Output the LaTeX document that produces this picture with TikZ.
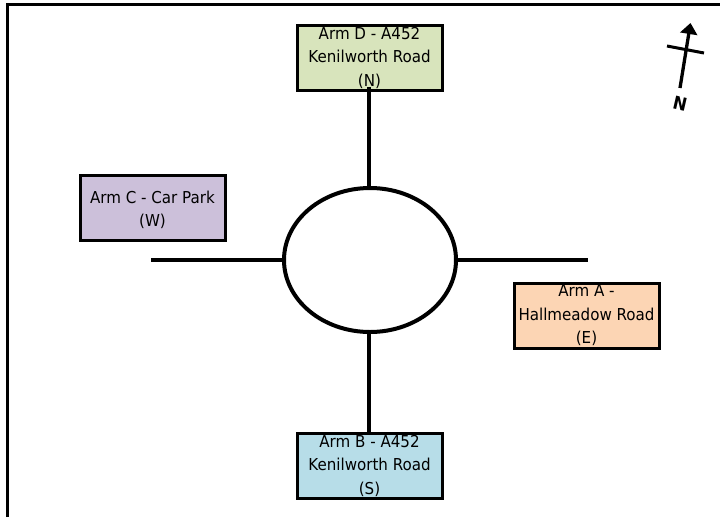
\documentclass[tikz,border=0pt]{standalone}
\usepackage{fontspec}
\usetikzlibrary{shapes.geometric,arrows.meta}
\setmainfont[FakeStretch=0.92]{DejaVu Sans}
\tikzset{
  x=1pt,y=-1pt,
  armbox/.style={draw=black,line width=3pt,minimum width=145pt,minimum height=65pt,inner sep=0pt,align=center,font=\fontsize{16.4}{23.5}\selectfont},
  road/.style={draw=black,line width=4pt},
}
\definecolor{armd}{HTML}{D8E4BC}
\definecolor{armc}{HTML}{CCC0DA}
\definecolor{arma}{HTML}{FCD5B4}
\definecolor{armb}{HTML}{B7DDE8}
\begin{document}
\begin{tikzpicture}
\useasboundingbox (0,0) rectangle (720,517);
\draw[line width=3pt] (7.5,517) -- (7.5,4.5) -- (720,4.5);
\node[armbox,fill=armd] (d) at (369.5,57.5) {Arm D - A452\\Kenilworth Road\\(N)};
\node[armbox,fill=armb] (b) at (369.5,465.5) {Arm B - A452\\Kenilworth Road\\(S)};
\node[armbox,fill=armc] (c) at (152.5,208) {\rule{0pt}{16.5pt}Arm C - Car Park\\(W)};
\node[armbox,fill=arma] (a) at (586.5,315.5) {Arm A -\\Hallmeadow Road\\(E)};
\node[draw=black,line width=4pt,ellipse,minimum width=172pt,minimum height=144pt,inner sep=0pt] (r) at (370,260) {};
\coordinate (w) at (151,260);
\coordinate (e) at (588,260);
\coordinate (dend) at (369,87);
\draw[road] (r.west) -- (w);
\draw[road] (r.east) -- (e);
\draw[road] (r.north -| dend) -- (dend);
\draw[road] (r.south -| dend) -- (b.north -| dend);
\coordinate (ns) at (680,88);
\coordinate (nt) at (690.5,23);
\draw[line width=3.3pt,-{Triangle[length=11pt,width=17pt]}] (ns) -- (nt);
\coordinate (cl) at (667,46);
\coordinate (cr) at (704,53);
\draw[line width=3pt] (cl) -- (cr);
\node[font=\fontsize{18}{20}\selectfont\bfseries,rotate=-13,inner sep=0pt] (n) at (680,104) {N};
\end{tikzpicture}
\end{document}
